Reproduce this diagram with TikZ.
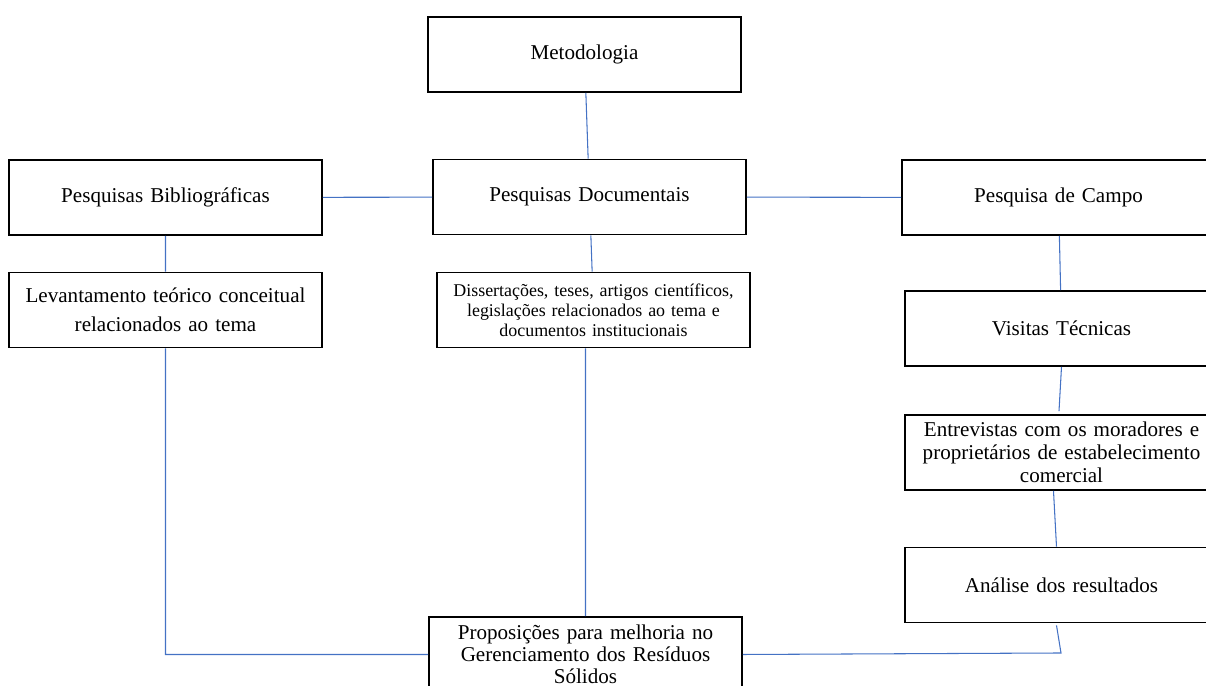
\documentclass[tikz,border=0pt]{standalone}
\usepackage{fontspec}
\setmainfont{Liberation Serif}
\usepackage{xcolor}
\usetikzlibrary{positioning}
\definecolor{linkblue}{HTML}{4472C4}

\begin{document}
\begin{tikzpicture}[thick,
                main node/.style={rectangle,draw,line width=1pt,minimum width=6.26cm,
                  minimum height=1.5cm,text width=6.1cm,align=center,inner sep=2pt,
                  font=\fontsize{12}{13.2}\selectfont},
                link/.style={draw=linkblue,line width=0.6pt}]

  \useasboundingbox (0,0) rectangle (24.12,13.72);
  \clip (0,0) rectangle (24.12,13.72);

  \node[main node] (meto) at (11.69,12.63) {Metodologia};
  \node[main node] (biblio) at (3.31,9.77) {Pesquisas Bibliográficas};
  \node[main node] (docum) at (11.79,9.78) {Pesquisas Documentais};
  \node[main node] (campo) at (21.17,9.77) {Pesquisa de Campo};
  \node[main node] (levant) at (3.31,7.52)
    {Levantamento teórico conceitual\\[3pt] relacionados ao tema};
  \node[main node, font=\fontsize{10.2}{11.3}\selectfont] (disser) at (11.87,7.52)
    {Dissertações, teses, artigos científicos,\\ legislações relacionados ao tema e\\ documentos institucionais};
  \node[main node] (visitas) at (21.23,7.15) {Visitas Técnicas};
  \node[main node] (entrev) at (21.23,4.67)
    {Entrevistas com os moradores e\\ proprietários de estabelecimento\\ comercial};
  \node[main node] (analise) at (21.23,2.02) {Análise dos resultados};
  \node[main node, font=\fontsize{12}{12.6}\selectfont] (propos) at (11.71,0.63)
    {Proposições para melhoria no\\ Gerenciamento dos Resíduos\\ Sólidos};

  \coordinate (bend) at (21.22,0.66);

  \path[link]
    (meto) -- (docum)
    (biblio) -- (docum)
    (docum) -- (campo)
    (biblio) -- (levant)
    (docum) -- (disser)
    (campo) -- (visitas)
    (visitas.south) -- ([xshift=-0.05cm,yshift=0.06cm]entrev.north)
    ([xshift=-0.16cm]entrev.south) -- ([xshift=-0.1cm]analise.north)
    ([xshift=-0.1cm,yshift=-0.04cm]analise.south) -- (bend) -- (propos.east)
    (levant.south) -- (levant.south |- propos.west) -- (propos.west)
    (propos.north |- disser.south) -- (propos.north);
\end{tikzpicture}
\end{document}
